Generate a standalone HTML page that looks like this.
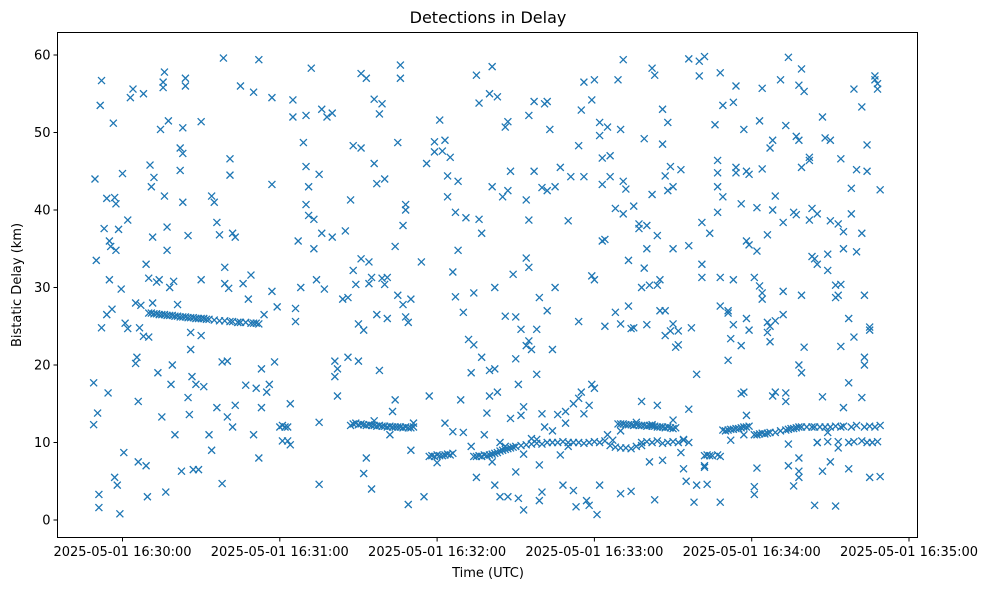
<!DOCTYPE html>
<html><head><meta charset="utf-8"><style>
body{margin:0;background:#fff;}
svg text{font-family:"DejaVu Sans","Liberation Sans",sans-serif;fill:#000;}
</style></head><body>
<svg id="chart" width="988" height="590" viewBox="0 0 988 590" xmlns="http://www.w3.org/2000/svg">
<rect width="988" height="590" fill="#fff"/>
<text x="488" y="23" font-size="16" text-anchor="middle">Detections in Delay</text>
<g id="marks"></g>
<g id="axes"></g>
<text x="488" y="577" font-size="13" text-anchor="middle">Time (UTC)</text>
<text x="21" y="285" font-size="13" text-anchor="middle" transform="rotate(-90 21 285)">Bistatic Delay (km)</text>
</svg>
<script>
const yTicks=[0,10,20,30,40,50,60];
const xTicks=[0,60,120,180,240,300];
const xTickLabels=["2025-05-01 16:30:00","2025-05-01 16:31:00","2025-05-01 16:32:00","2025-05-01 16:33:00","2025-05-01 16:34:00","2025-05-01 16:35:00"];
const detections=[[-11,17.7],[-11,12.3],[-10.5,44],[-10,33.5],[-9.5,13.8],[-9,3.3],[-9,1.6],[-8.5,53.5],[-8,56.7],[-8,24.8],[-7,37.6],[-6,26.5],[-6,41.5],[-5.5,16.4],[-5,31],[-5,36],[-4.5,35.3],[-4,27.2],[-3.5,51.2],[-3,5.5],[-3,41.6],[-2.5,40.8],[-2.5,34.8],[-2,4.5],[-1.5,37.5],[-1,0.8],[-0.5,29.8],[0,44.7],[0.5,8.7],[1,25.4],[2,38.7],[2,24.7],[3,54.5],[4,55.6],[5,28],[5,20.2],[5.5,21],[6,15.3],[6,7.5],[6.5,24.8],[7,27.7],[8,23.7],[8,55],[9,33],[9,7],[9.5,3],[10,31.2],[10,23.6],[10.5,45.8],[11,43],[11.5,36.5],[11.5,28],[12,44.2],[13,30.7],[13.5,19],[14,31],[14.5,50.4],[15,13.3],[15.5,56.5],[15.5,55.8],[16,57.8],[16,41.8],[16.5,3.6],[17,34.8],[17,37.8],[17.5,51.5],[18,30],[18.5,17.5],[19,20],[19.5,30.8],[20,11],[21,27.8],[22,48],[22,45.1],[22.5,6.3],[23,50.6],[23,41],[23,47.3],[24,56],[24,57],[25,36.7],[25,15.8],[25.5,13.6],[26,22],[26.5,18.5],[26,24.2],[27,6.5],[28,17.5],[29,6.5],[30,31],[30,51.4],[30,23.8],[31,17.2],[33,11],[34,9],[34,41.8],[35,41],[36,14.5],[36,38.4],[37,36.8],[38,20.4],[38,4.7],[38.5,59.6],[39,30.5],[39,32.6],[40,20.5],[40,13.3],[40.5,29.9],[41,46.6],[41,44.5],[42,12],[42,37],[43,36.5],[43,14.8],[44,25.5],[45,56],[46,30.5],[47,17.4],[48,28.5],[49,31.6],[50,55.2],[50,11],[51,17],[52,59.4],[52,8],[53,14.5],[53,19.5],[54,26.5],[55,16.5],[56,17.5],[57,43.3],[57,54.5],[57,29.5],[58,20.4],[59,27.5],[60,12],[61,10.2],[61,12.2],[62,12],[63,10.2],[63,12],[64,9.7],[64,15],[65,54.2],[65,52],[66,27.3],[66,25.6],[67,36],[68,30],[69,48.7],[70,52.2],[70,40.7],[70,45.6],[71,43],[71,39.3],[72,58.3],[73,35],[73,38.8],[74,31],[75,12.6],[75,4.6],[75,44.6],[76,53],[76,37],[77,29.8],[78,52],[80,52.5],[80,36.5],[81,18.5],[81,20.5],[82,16],[82,19.5],[84,28.5],[85,37.3],[86,21],[86,28.7],[87,41.3],[88,48.3],[88,32.2],[89,30.4],[90,20.5],[90,25.3],[91,48],[91,33.7],[91,57.6],[92,24.5],[92,6],[93,57],[93,8],[94,30.5],[94,33.3],[95,31.3],[95,4],[96,54.3],[96,12.8],[96,46],[97,26.5],[97,43.4],[98,19.3],[98,52.4],[99,53.7],[99,31.2],[100,44],[100,30.4],[101,26],[101,31.3],[102,11],[103,14],[104,15.5],[104,35.3],[105,48.7],[105,29],[106,57],[106,58.7],[107,38],[107,27.8],[108,40.7],[108,40],[108,26.2],[109,25.5],[109,2],[110,9],[110,28.5],[111,12.5],[114,33.3],[115,3],[116,46],[117,16],[119,47.5],[119,48.8],[120,7.4],[121,51.6],[122,47.6],[123,12.5],[123,49],[124,44.4],[124,41.7],[125,46.8],[126,32],[126,11.4],[127,28.8],[127,39.7],[128,34.8],[128,43.7],[129,15.5],[130,26.8],[130,11.3],[131,39],[132,23.3],[133,19],[133,9.5],[134,22.6],[134,29.3],[135,5.5],[135,57.4],[136,53.8],[136,38.8],[137,37],[137,21],[138,11],[139,13.8],[140,16],[140,19.3],[140,55],[141,58.5],[141,7.5],[141,43],[142,30],[142,4.5],[142,19.5],[143,54.6],[143,16.5],[144,10],[144,3],[145,41.7],[146,9.5],[146,26.3],[146,50.7],[147,51.4],[147,42.5],[147,3],[148,13.1],[148,45],[149,31.7],[150,6.2],[150,20.8],[150,26.2],[151,2.8],[151,17.5],[152,13.5],[152,24.6],[153,14.6],[153,8.5],[153,1.3],[154,22.5],[154,41.3],[154,33.8],[155,38.7],[155,32.6],[155,52.2],[155,23.1],[156,22],[156,10.5],[157,54],[157,45],[158,10.4],[158,24.6],[158,18.8],[159,7.1],[159,28.7],[159,2.5],[160,42.9],[160,3.6],[160,13.7],[161,53.7],[161,12],[162,42.5],[162,54],[162,27],[163,50.4],[164,22],[164,11.5],[165,43],[165,30],[166,13.6],[167,8.4],[167,45.5],[168,4.5],[169,12.5],[169,14],[170,38.6],[170,9.5],[171,44.3],[172,3.8],[172,15],[173,1.7],[174,15.7],[174,48.3],[174,25.6],[175,52.9],[175,16.5],[176,44.3],[176,13.7],[176,56.5],[177,2.5],[178,1.9],[178,14.8],[179,17.5],[179,54.2],[179,31.5],[180,56.8],[180,31],[180,17],[181,0.7],[182,4.5],[182,49.6],[182,51.3],[183,36],[183,43.3],[183,46.7],[184,25],[184,36.2],[185,50.7],[185,11],[186,47],[186,44.3],[187,10.3],[188,26.8],[188,40.2],[189,56.8],[190,25.3],[190,3.4],[190,11.5],[190,50.4],[191,59.4],[191,43.7],[191,39.5],[192,42.7],[193,27.6],[193,33.5],[194,3.7],[194,24.7],[195,40.5],[195,24.8],[196,12.6],[197,38.2],[197,37.6],[198,30],[198,15.3],[199,32.5],[199,49.2],[200,35],[200,25.2],[200,38],[201,30.3],[201,7.5],[202,42],[202,58.3],[202,12.3],[203,2.6],[203,57.4],[204,36.7],[204,14.8],[204,30.3],[205,27],[205,31],[206,48.5],[206,53],[206,7.7],[207,27],[207,44.4],[207,23.8],[208,51.3],[208,42.5],[209,24.4],[209,45.6],[210,25.3],[210,35],[210,12.9],[210,43],[211,22.3],[212,24.4],[212,22.6],[213,45.2],[213,8.7],[214,10.4],[214,6.6],[215,5],[216,59.5],[216,14.3],[216,35.4],[217,24.8],[218,2.3],[219,18.8],[219,4.5],[220,57.3],[220,59.2],[221,33],[221,31.3],[221,38.4],[222,7],[222,59.8],[222,6.8],[223,4.6],[224,37],[226,51],[227,43],[227,44.8],[227,46.4],[227,39.7],[228,2.3],[228,31.3],[228,27.6],[228,57.7],[229,53.5],[229,41.7],[231,20.6],[231,26.7],[231,27],[232,23.4],[232,10.3],[233,25.2],[233,31],[233,53.9],[234,45.5],[234,44.8],[234,56],[236,16.3],[236,40.8],[236,22.5],[237,16.5],[237,50.4],[237,11],[238,45],[238,13.5],[238,36],[238,26],[239,35.5],[239,44.6],[239,24.5],[241,31.3],[241,3.3],[241,4.3],[242,6.7],[242,40.3],[242,34.7],[243,51.5],[243,30.2],[244,45.3],[244,55.7],[244,29.3],[244,28.5],[246,25.5],[246,36.8],[246,24.2],[247,48],[247,25],[247,23],[248,49],[248,40],[248,16],[249,16.5],[249,41.8],[249,25.7],[251,56.8],[252,26.5],[252,29.5],[252,38.4],[253,50.9],[253,15.3],[253,16.4],[254,59.7],[254,7],[254,9.8],[256,39.7],[256,4.4],[257,39.4],[257,49.5],[258,5.5],[258,6.3],[258,8],[258,56.1],[258,49],[258,20],[259,58.2],[259,29],[259,45.5],[259,19],[260,55.3],[260,22.3],[262,46.4],[262,46.8],[262,38.7],[263,40.2],[263,34],[264,33.7],[264,1.9],[265,10],[265,33],[265,39.5],[267,6.3],[267,52],[267,15.9],[268,49.3],[269,11.3],[269,32.2],[269,34.3],[270,49],[270,7.5],[270,38.6],[272,28.7],[272,30.3],[272,1.8],[273,38.2],[273,29],[273,9.3],[274,46.6],[274,22.4],[274,30.4],[275,37.2],[275,14.5],[275,35],[277,17.7],[277,26],[277,6.6],[278,42.8],[278,39.5],[279,55.6],[279,23.6],[280,34.6],[280,45.2],[282,53.3],[282,37],[282,15.8],[283,29],[283,21],[283,20],[284,48.4],[284,45],[285,24.9],[285,24.5],[285,5.5],[287,57.3],[287,56.8],[288,56.3],[288,55.6],[289,42.6],[289,5.6]];
const trackA=[[10,26.7],[11,26.7],[12,26.6],[13,26.6],[14,26.5],[15,26.5],[16,26.5],[17,26.4],[18,26.4],[19,26.4],[20,26.3],[21,26.3],[22,26.2],[23,26.2],[24,26.2],[25,26.1],[26,26.1],[27,26.1],[28,26],[29,26],[30,26],[31,26],[32,25.9],[33,25.9],[35,25.8],[37,25.7],[39,25.7],[41,25.6],[42,25.6],[44,25.5],[45,25.5],[47,25.5],[49,25.4],[50,25.4],[51,25.4],[52,25.3]];
const trackB=[[87,12.2],[88,12.4],[89,12.5],[90,12.3],[91,12.4],[92,12.3],[93,12.2],[94,12.3],[95,12.2],[96,12.2],[97,12.1],[98,12.2],[99,12.1],[100,12.1],[101,12],[102,12.1],[103,12],[104,12],[105,12],[106,12],[107,11.9],[108,12],[109,11.9],[110,11.9],[111,12],[117,8.2],[118,8.3],[119,8.2],[120,8.4],[121,8.3],[122,8.3],[123,8.4],[124,8.5],[125,8.4],[126,8.6]];
const trackC=[[134,8.2],[135,8.2],[136,8.3],[137,8.2],[138,8.4],[139,8.3],[140,8.4],[141,8.5],[142,8.6],[143,8.7],[144,8.9],[145,9],[146,9.1],[147,9.2],[148,9.3],[149,9.4],[150,9.5],[152,9.6],[154,9.7],[156,9.8],[158,9.9],[160,9.8],[162,10],[164,10],[166,10],[168,10.1],[170,10],[172,10],[174,10],[176,9.9],[178,10],[180,10.1],[182,10],[184,10.2],[186,9.6],[188,9.4],[190,9.3],[192,9.3],[194,9.2],[196,9.5],[198,9.6]];
const trackD=[[189,12.4],[190,12.4],[191,12.4],[192,12.3],[193,12.3],[194,12.3],[195,12.2],[196,12.3],[197,12.2],[198,12.2],[199,12.2],[200,12.1],[201,12.2],[202,12.1],[203,12.1],[204,12],[205,12],[206,12],[207,11.9],[208,12],[209,11.9],[210,11.8],[211,11.9],[198,10],[200,10.1],[202,10],[204,10.2],[206,9.9],[208,10],[210,10.1],[212,10],[214,10.3],[216,10]];
const trackE=[[222,8.3],[223,8.4],[224,8.3],[225,8.3],[227,8.4],[228,8.2],[229,11.6],[230,11.5],[231,11.6],[232,11.7],[233,11.7],[234,11.8],[235,11.8],[236,11.9],[237,12],[238,12],[239,12.1],[241,11],[242,11],[243,11.1],[244,11.2],[245,11.1],[246,11.2],[247,11.3],[249,11.3],[251,11.5],[253,11.6],[254,11.7],[255,11.8],[256,11.8],[257,11.9],[258,12],[259,12],[261,12],[263,12],[264,12],[265,10],[266,12],[268,12],[269,10.1],[270,12],[272,12.1],[273,10.1],[274,12],[275,12.1],[277,10],[278,12],[279,10.1],[280,12.2],[282,10.2],[283,12],[284,10],[285,12.1],[286,10],[287,12],[288,10.1],[289,12.2]];

const L=57.5,R=917.5,T=32.5,B=537.5;
function xs(t){return 122.5+t*(157.3/60);}
function ys(d){return 520-d*7.75;}
const NS='http://www.w3.org/2000/svg';
const marks=document.getElementById('marks');
const axes=document.getElementById('axes');
function mk(tag,attrs,parent){const e=document.createElementNS(NS,tag);for(const k in attrs)e.setAttribute(k,attrs[k]);parent.appendChild(e);return e;}
const all=detections.concat(trackA,trackB,trackC,trackD,trackE);
all.forEach(p=>{
  const x=xs(p[0]),y=ys(p[1]),s=3.5;
  const g=mk('path',{d:`M${x-s},${y-s}L${x+s},${y+s}M${x-s},${y+s}L${x+s},${y-s}`,stroke:'#1f77b4','stroke-width':1.3,fill:'none'},marks);
  
  
});
const frame=mk('rect',{x:L,y:T,width:R-L,height:B-T,fill:'none',stroke:'#000','stroke-width':1},axes);


yTicks.forEach(v=>{
  const y=ys(v);
  const tk=mk('line',{x1:L-4,x2:L,y1:y,y2:y,stroke:'#000'},axes);
  
  
  const tx=mk('text',{x:L-7,y:y+4.5,'font-size':13,'text-anchor':'end'},axes);
  tx.textContent=String(v);
  
  
});
xTicks.forEach((v,i)=>{
  const x=xs(v);
  const tk=mk('line',{x1:x,x2:x,y1:B,y2:B+4,stroke:'#000'},axes);
  
  
  const tx=mk('text',{x:x,y:556,'font-size':13,'text-anchor':'middle'},axes);
  tx.textContent=xTickLabels[i];
  
  
});
</script>
</body></html>
